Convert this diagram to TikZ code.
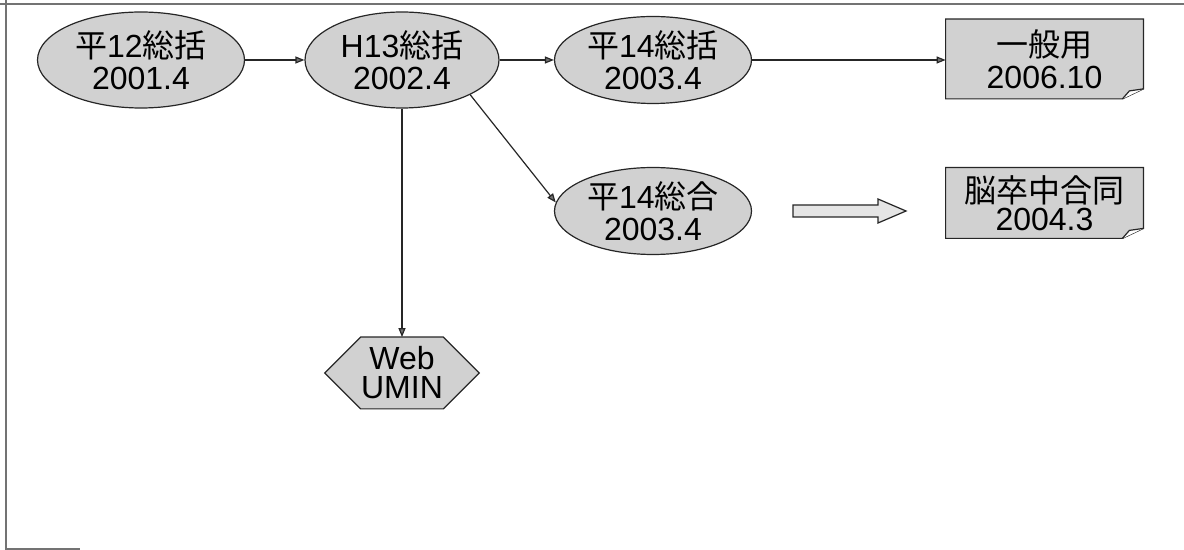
\documentclass[tikz,border=0pt]{standalone}
\usepackage{fontspec}
\setmainfont{Liberation Sans}
\newfontfamily\jp{Noto Sans CJK JP}
\usetikzlibrary{shapes.geometric,arrows.meta,backgrounds}

\begin{document}
\begin{tikzpicture}[
    x=0.5pt, y=-0.5pt,
    font=\fontsize{16}{16.2}\selectfont,
    freccia/.style={draw=black!85, line width=0.6pt,
      -{Triangle[length=4.5pt,width=3.5pt,fill=black!55]}},
    ovale/.style={ellipse, draw=black!85, fill=black!18, line width=0.6pt,
      inner sep=0pt, align=center},
    foglio/.style={rectangle, inner sep=0pt, align=center,
      minimum width=98.5pt},
    bordo/.style={draw=black!85, fill=black!18, line width=0.6pt},
    cornice/.style={black!55, line width=0.6pt},
  ]

  \useasboundingbox (0,0) rectangle (1184,550);

  % --- cornice -------------------------------------------------------
  \draw[cornice] (0,4) -- (1184,4);
  \draw[cornice] (6,0) -- (6,550);
  \draw[cornice] (6,549) -- (80,549);

  % --- le versioni ---------------------------------------------------
  \node[ovale, minimum width=103.5pt, minimum height=48pt]
    (h12) at (141,60) {{\jp 平}12{\jp 総括}\\2001.4};
  \node[ovale, minimum width=97pt, minimum height=48pt]
    (h13) at (402,60) {H13{\jp 総括}\\2002.4};
  \node[ovale, minimum width=98.5pt, minimum height=43.5pt]
    (h14k) at (653,60) {{\jp 平}14{\jp 総括}\\2003.4};
  \node[ovale, minimum width=98.5pt, minimum height=43.5pt]
    (h14g) at (653,211) {{\jp 平}14{\jp 総合}\\2003.4};

  % --- i documenti, con l'angolo piegato -------------------------------
  \node[foglio, minimum height=39.5pt] (ippan) at (1044.5,59)
    {{\jp 一般用}\\2006.10};
  \node[foglio, minimum height=35pt, font=\fontsize{16}{14}\selectfont]
    (nou) at (1044.5,203) {{\jp 脳卒中合同}\\2004.3};

  % --- Web ------------------------------------------------------------
  \node[rectangle, inner sep=0pt, align=center,
    minimum width=37pt, minimum height=35.5pt,
    font=\fontsize{16}{14.5}\selectfont]
    (web) at (402,373) {Web\\UMIN};

  \begin{pgfonlayer}{background}
    \foreach \d in {ippan,nou}{%
      \draw[bordo] (\d.north west) -- (\d.north east)
        -- ([yshift=5pt]\d.south east) -- ([xshift=-10.5pt]\d.south east)
        -- (\d.south west) -- cycle;
      \draw[bordo, fill=white] ([xshift=-10.5pt]\d.south east)
        -- ([xshift=-7pt,yshift=4pt]\d.south east)
        -- ([yshift=5pt]\d.south east);
    }
    \draw[bordo] (web.north west) -- (web.north east)
      -- ([xshift=18pt]web.east) -- (web.south east)
      -- (web.south west) -- ([xshift=-18pt]web.west) -- cycle;
  \end{pgfonlayer}

  % --- frecce ---------------------------------------------------------
  \draw[freccia] (h12) -- (h13);
  \draw[freccia] (h13) -- (h14k);
  \draw[freccia] (h14k) -- (h14k.east -| ippan.west);
  \draw[freccia] (h13.-27) -- (h14g.175);
  \draw[freccia] (h13) -- (web);

  % --- la freccia grossa ----------------------------------------------
  \draw[bordo, fill=black!10]
    (793,205) -- (878,205) -- (878,199) -- (906,211)
    -- (878,223) -- (878,217) -- (793,217) -- cycle;

\end{tikzpicture}
\end{document}
